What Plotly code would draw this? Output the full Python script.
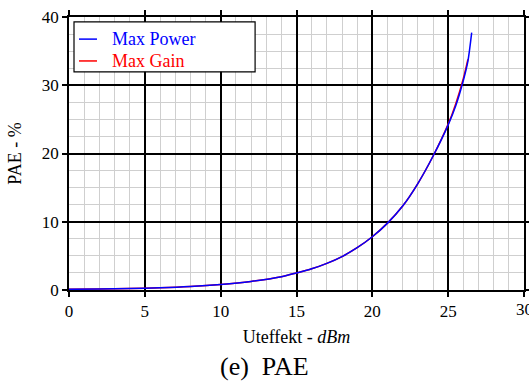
import plotly.graph_objects as go

# Output power (dBm) and power-added efficiency (%) for the two matching cases
pout_max_power = [0, 2, 4, 6, 8, 10, 12, 14, 15, 16, 17, 18, 19, 20, 21, 22, 23, 24, 25, 25.5, 26, 26.3, 26.55]
pae_max_power = [0.1, 0.15, 0.22, 0.32, 0.5, 0.8, 1.25, 1.95, 2.5, 3.1, 3.9, 4.9, 6.2, 7.8, 9.8, 12.3, 15.6, 19.6, 24.2, 27.0, 30.7, 33.5, 37.7]

pout_max_gain = [0, 2, 4, 6, 8, 10, 12, 14, 15, 16, 17, 18, 19, 20, 21, 22, 23, 24, 25, 25.5, 26, 26.3]
pae_max_gain = [0.1, 0.15, 0.22, 0.32, 0.5, 0.8, 1.25, 1.95, 2.5, 3.1, 3.9, 4.9, 6.2, 7.8, 9.8, 12.3, 15.6, 19.6, 24.3, 27.3, 31.0, 33.8]

x_ticks = [0, 5, 10, 15, 20, 25, 30]
y_ticks = [0, 10, 20, 30, 40]

FONT = "Liberation Serif"

fig = go.Figure()
fig.add_trace(go.Scatter(x=pout_max_gain, y=pae_max_gain, mode="lines",
                         line=dict(color="red", width=1.5, shape="spline", smoothing=0.8),
                         name="Max Gain"))
fig.add_trace(go.Scatter(x=pout_max_power, y=pae_max_power, mode="lines",
                         line=dict(color="blue", width=1.5, shape="spline", smoothing=0.8),
                         name="Max Power"))

axis_common = dict(
    showline=True, linecolor="black", linewidth=1.5, mirror="ticks",
    ticks="outside", ticklen=5, tickcolor="black", tickwidth=1.5,
    showgrid=True, gridcolor="black", gridwidth=1.5,
    zeroline=False, automargin=False,
    tickfont=dict(family=FONT, size=17, color="black"),
)

fig.update_xaxes(range=[0, 30], tickvals=x_ticks,
                 minor=dict(dtick=1, showgrid=True, gridcolor="#cfcfcf", gridwidth=1),
                 title=dict(text="Uteffekt - <i>dBm</i>", font=dict(family=FONT, size=18, color="black"),
                            standoff=10),
                 **axis_common)
fig.update_yaxes(range=[0, 40], tickvals=y_ticks,
                 minor=dict(dtick=2.5, showgrid=True, gridcolor="#cfcfcf", gridwidth=1),
                 title=dict(text="PAE - %", font=dict(family=FONT, size=18, color="black"),
                            standoff=16),
                 **axis_common)

# The last x tick label runs past the page edge; plotly drops such labels, so draw it as text
fig.add_annotation(xref="x", yref="paper", x=x_ticks[-1], y=0, yshift=-8, text=str(x_ticks[-1]),
                   showarrow=False, xanchor="center", yanchor="top",
                   font=dict(family=FONT, size=17, color="black"))

# Legend box drawn in paper coordinates
fig.add_shape(type="rect", xref="paper", yref="paper", x0=0.011, x1=0.409, y0=0.799, y1=0.982,
              line=dict(color="black", width=1.2), fillcolor="white", layer="above")
legend_rows = [("Max Power", "blue", 0.919), ("Max Gain", "red", 0.839)]
for label, color, yy in legend_rows:
    fig.add_shape(type="line", xref="paper", yref="paper", x0=0.022, x1=0.0615, y0=yy, y1=yy,
                  line=dict(color=color, width=1.5), layer="above")
    fig.add_annotation(xref="paper", yref="paper", x=0.09, y=yy, text=label, showarrow=False,
                       xanchor="left", yanchor="middle",
                       font=dict(family=FONT, size=18, color=color))

# Caption below the plot
fig.add_annotation(xref="paper", yref="paper", x=0.43, y=-0.282, text="(e)  PAE", showarrow=False,
                   xanchor="center", yanchor="middle", font=dict(family=FONT, size=26, color="black"))

fig.update_layout(
    width=529, height=383,
    margin=dict(l=69, r=5, t=17, b=93),
    paper_bgcolor="white", plot_bgcolor="white",
    showlegend=False,
)

fig.write_html("out.html")
